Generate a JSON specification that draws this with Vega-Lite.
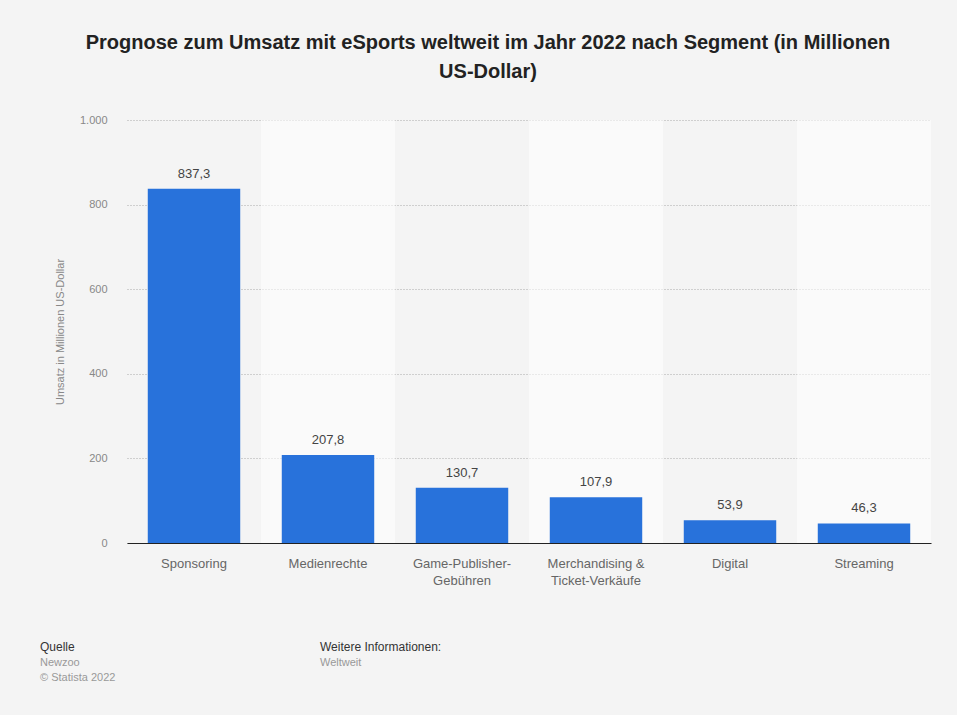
{
  "$schema": "https://vega.github.io/schema/vega-lite/v6.json",
  "width": 804,
  "height": 423,
  "autosize": {"type": "none"},
  "padding": {"left": 127, "top": 120, "right": 26, "bottom": 172},
  "background": "#f4f4f4",
  "config": {
    "font": "Liberation Sans",
    "view": {"stroke": null},
    "locale": {"number": {"decimal": ",", "thousands": ".", "grouping": [3], "currency": ["", " €"]}}
  },
  "title": {
    "text": ["Prognose zum Umsatz mit eSports weltweit im Jahr 2022 nach Segment (in Millionen", "US-Dollar)"],
    "fontSize": 20,
    "fontWeight": "bold",
    "color": "#222222",
    "lineHeight": 29,
    "anchor": "middle",
    "frame": "group",
    "dx": -41,
    "offset": 32
  },
  "data": {
    "values": [
      {"segment": "Sponsoring", "umsatz": 837.3},
      {"segment": "Medienrechte", "umsatz": 207.8},
      {"segment": "Game-Publisher-Gebühren", "umsatz": 130.7},
      {"segment": "Merchandising & Ticket-Verkäufe", "umsatz": 107.9},
      {"segment": "Digital", "umsatz": 53.9},
      {"segment": "Streaming", "umsatz": 46.3}
    ]
  },
  "layer": [
    {
      "transform": [{"filter": {"field": "segment", "oneOf": ["Medienrechte", "Merchandising & Ticket-Verkäufe", "Streaming"]}}],
      "mark": {"type": "rect", "color": "#ffffff", "opacity": 0.55},
      "encoding": {
        "x": {
          "field": "segment",
          "type": "nominal",
          "sort": ["Sponsoring", "Medienrechte", "Game-Publisher-Gebühren", "Merchandising & Ticket-Verkäufe", "Digital", "Streaming"],
          "scale": {"paddingInner": 0, "paddingOuter": 0},
          "axis": {
            "title": null,
            "labelAngle": 0,
            "labelFontSize": 13,
            "labelColor": "#666666",
            "labelPadding": 14,
            "labelLineHeight": 17,
            "ticks": false,
            "domainColor": "#222222",
            "domainWidth": 1,
            "labelExpr": "datum.label == 'Game-Publisher-Gebühren' ? ['Game-Publisher-', 'Gebühren'] : datum.label == 'Merchandising & Ticket-Verkäufe' ? ['Merchandising &', 'Ticket-Verkäufe'] : datum.label"
          }
        },
        "y": {
          "datum": 1000,
          "type": "quantitative",
          "scale": {"domain": [0, 1000]},
          "axis": {
            "title": "Umsatz in Millionen US-Dollar",
            "titleFontSize": 11,
            "titleFontWeight": "normal",
            "titleColor": "#888888",
            "titlePadding": 14,
            "values": [0, 200, 400, 600, 800, 1000],
            "format": ",.0f",
            "labelFontSize": 11,
            "labelColor": "#888888",
            "labelPadding": 20,
            "ticks": false,
            "domain": false,
            "grid": true,
            "gridColor": "#aaaaaa",
            "gridDash": [1, 2],
            "gridWidth": 1
          }
        },
        "y2": {"datum": 0}
      }
    },
    {
      "mark": {"type": "bar", "color": "#2872db", "width": {"band": 0.69}},
      "encoding": {
        "x": {"field": "segment", "type": "nominal", "sort": ["Sponsoring", "Medienrechte", "Game-Publisher-Gebühren", "Merchandising & Ticket-Verkäufe", "Digital", "Streaming"]},
        "y": {"field": "umsatz", "type": "quantitative"}
      }
    },
    {
      "mark": {"type": "text", "fontSize": 13, "color": "#444444", "baseline": "bottom", "dy": -8},
      "encoding": {
        "x": {"field": "segment", "type": "nominal", "sort": ["Sponsoring", "Medienrechte", "Game-Publisher-Gebühren", "Merchandising & Ticket-Verkäufe", "Digital", "Streaming"]},
        "y": {"field": "umsatz", "type": "quantitative"},
        "text": {"field": "umsatz", "type": "quantitative", "format": ".1f"}
      }
    },
    {
      "data": {"values": [{"note": "Quelle"}]},
      "mark": {"type": "text", "x": -87, "y": 527, "align": "left", "baseline": "middle", "fontSize": 12, "color": "#333333"},
      "encoding": {"text": {"field": "note"}}
    },
    {
      "data": {"values": [{"note": "Newzoo"}]},
      "mark": {"type": "text", "x": -87, "y": 543, "align": "left", "baseline": "middle", "fontSize": 11, "color": "#999999"},
      "encoding": {"text": {"field": "note"}}
    },
    {
      "data": {"values": [{"note": "© Statista 2022"}]},
      "mark": {"type": "text", "x": -87, "y": 558, "align": "left", "baseline": "middle", "fontSize": 11, "color": "#999999"},
      "encoding": {"text": {"field": "note"}}
    },
    {
      "data": {"values": [{"note": "Weitere Informationen:"}]},
      "mark": {"type": "text", "x": 193, "y": 527, "align": "left", "baseline": "middle", "fontSize": 12, "color": "#333333"},
      "encoding": {"text": {"field": "note"}}
    },
    {
      "data": {"values": [{"note": "Weltweit"}]},
      "mark": {"type": "text", "x": 193, "y": 543, "align": "left", "baseline": "middle", "fontSize": 11, "color": "#999999"},
      "encoding": {"text": {"field": "note"}}
    }
  ]
}
